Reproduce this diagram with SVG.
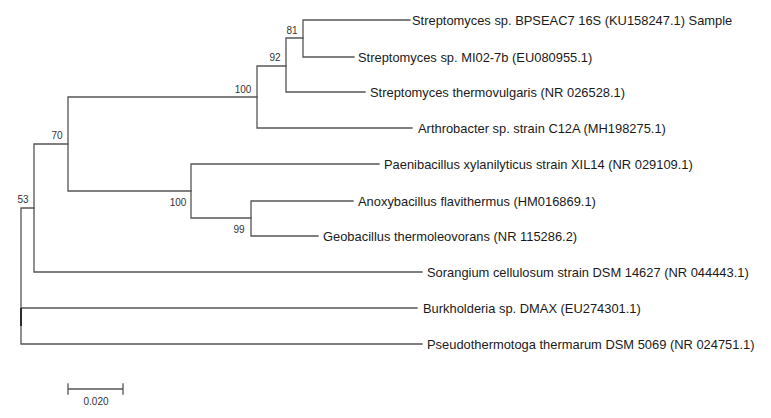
<svg xmlns="http://www.w3.org/2000/svg" width="771" height="418" viewBox="0 0 771 418">
<style>
.br{stroke:#555;stroke-width:1.3;fill:none;stroke-linecap:square}
.lf{font-family:"Liberation Sans",Arial,sans-serif;font-size:12.9px;fill:#1a1a1a}
.bs{font-family:"Liberation Sans",Arial,sans-serif;font-size:10px;fill:#333;text-anchor:middle}
</style>
<rect width="771" height="418" fill="#fff"/>
<g id="connectors">
<path class="br" d="M303 20V57M303 20H410M303 57H354"/>
<path class="br" d="M286 38V92M286 38H303M286 92H365"/>
<path class="br" d="M257 66V128M257 66H286M257 128H412"/>
<path class="br" d="M68 97V191M68 97H257M68 191H191"/>
<path class="br" d="M191 164V218M191 164H379M191 218H251"/>
<path class="br" d="M251 201V236M251 201H353M251 236H318"/>
<path class="br" d="M34 144V272M34 144H68M34 272H422"/>
<path class="br" d="M21 208V344M21 208H34M21 308H417M21 344H422"/>
<path d="M21 308V326" stroke="#222" stroke-width="1.8"/>
</g>
<g id="n81"><text class="bs" x="292" y="34">81</text></g>
<g id="n92"><text class="bs" x="275" y="61">92</text></g>
<g id="n100a"><text class="bs" x="243" y="93">100</text></g>
<g id="n70"><text class="bs" x="57" y="139">70</text></g>
<g id="n100b"><text class="bs" x="178" y="206">100</text></g>
<g id="n99"><text class="bs" x="239" y="233">99</text></g>
<g id="n53"><text class="bs" x="23" y="203">53</text></g>
<g id="leaf1"><text class="lf" x="412" y="24.5">Streptomyces sp. BPSEAC7 16S (KU158247.1) Sample</text></g>
<g id="leaf2"><text class="lf" x="358" y="61.5">Streptomyces sp. MI02-7b (EU080955.1)</text></g>
<g id="leaf3"><text class="lf" x="370" y="96.5">Streptomyces thermovulgaris (NR 026528.1)</text></g>
<g id="leaf4"><text class="lf" x="418" y="132.5">Arthrobacter sp. strain C12A (MH198275.1)</text></g>
<g id="leaf5"><text class="lf" x="384" y="168.5">Paenibacillus xylanilyticus strain XIL14 (NR 029109.1)</text></g>
<g id="leaf6"><text class="lf" x="358" y="205.5">Anoxybacillus flavithermus (HM016869.1)</text></g>
<g id="leaf7"><text class="lf" x="323" y="240.5">Geobacillus thermoleovorans (NR 115286.2)</text></g>
<g id="leaf8"><text class="lf" x="427" y="276.5">Sorangium cellulosum strain DSM 14627 (NR 044443.1)</text></g>
<g id="leaf9"><text class="lf" x="423" y="312.5">Burkholderia sp. DMAX (EU274301.1)</text></g>
<g id="leaf10"><text class="lf" x="427" y="348.5">Pseudothermotoga thermarum DSM 5069 (NR 024751.1)</text></g>
<g id="scalebar">
<path class="br" d="M68 389H123M68 384V394M123 384V394"/>
<text class="bs" x="96" y="405">0.020</text>
</g>
</svg>
